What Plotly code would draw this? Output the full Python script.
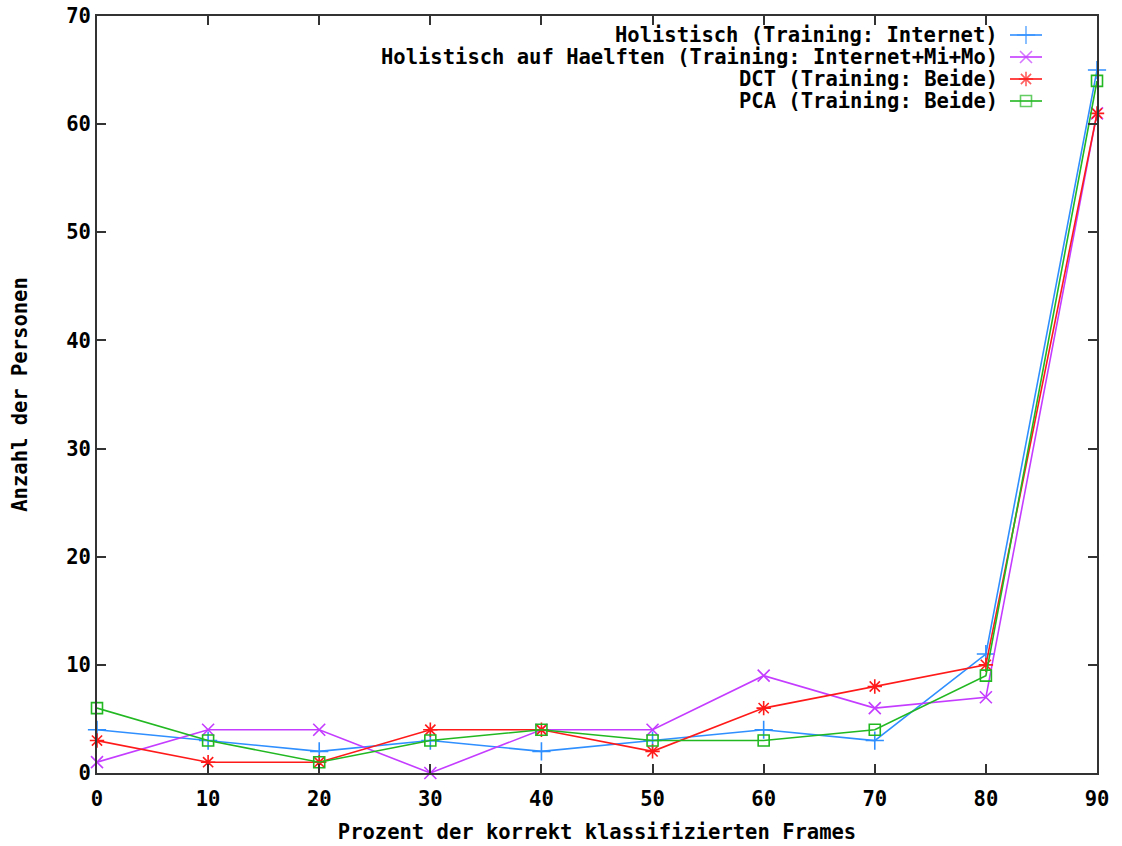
import plotly.graph_objects as go

x_vals = [0, 10, 20, 30, 40, 50, 60, 70, 80, 90]
holistisch = [4, 3, 2, 3, 2, 3, 4, 3, 11, 65]
holistisch_haelften = [1, 4, 4, 0, 4, 4, 9, 6, 7, 61]
dct = [3, 1, 1, 4, 4, 2, 6, 8, 10, 61]
pca = [6, 3, 1, 3, 4, 3, 3, 4, 9, 64]

names = [
    "Holistisch (Training: Internet)",
    "Holistisch auf Haelften (Training: Internet+Mi+Mo)",
    "DCT (Training: Beide)",
    "PCA (Training: Beide)",
]
series = [holistisch, holistisch_haelften, dct, pca]
colors = ["#2f8fff", "#c43cff", "#ff1a1a", "#22b822"]
symbols = ["cross-thin-open", "x-thin-open", "asterisk-open", "square-open"]
msizes = [13, 12, 12, 11]

FONT = "DejaVu Sans Mono"
FS = 20.5

fig = go.Figure()
for name, ys, c, s, ms in zip(names, series, colors, symbols, msizes):
    fig.add_trace(go.Scatter(
        x=x_vals, y=ys, mode="lines+markers", name=name,
        line=dict(color=c, width=1.6),
        marker=dict(symbol=s, size=ms, color=c, line=dict(color=c, width=1.6)),
        cliponaxis=False,
    ))

# Legend (gnuplot style: text right, sample on the right) on pixel-like overlay axes
row_y = [19, 41, 63, 85]
for name, c, s, ms, ry in zip(names, colors, symbols, msizes, row_y):
    fig.add_trace(go.Scatter(
        x=[913, 929, 945], y=[ry, ry, ry], xaxis="x2", yaxis="y2",
        mode="lines+markers",
        line=dict(color=c, width=1.6),
        marker=dict(symbol=s, size=[0, ms, 0], color=c, line=dict(color=c, width=1.6)),
        hoverinfo="skip", cliponaxis=False,
    ))
    fig.add_annotation(
        x=903, y=ry, xref="x2", yref="y2", text=name, showarrow=False,
        xanchor="right", yanchor="middle",
        font=dict(family=FONT, size=FS, color="black", weight="bold"),
    )

fig.update_layout(
    width=1122, height=846,
    margin=dict(l=97, r=25, t=16, b=73, autoexpand=False),
    paper_bgcolor="white", plot_bgcolor="white",
    showlegend=False,
    font=dict(family=FONT, size=FS, color="black", weight="bold"),
    xaxis=dict(
        range=[0, 90], tickmode="array", tickvals=x_vals,
        ticktext=[str(v) for v in x_vals],
        ticks="inside", ticklen=9, tickwidth=1.5, tickcolor="#333",
        showline=True, linecolor="#333", linewidth=2, mirror="ticks",
        showgrid=False, zeroline=False, automargin=False,
        ticklabelstandoff=6,
        tickfont=dict(family=FONT, size=FS, weight="bold"),
        title=dict(text="Prozent der korrekt klassifizierten Frames",
                   font=dict(family=FONT, size=FS, weight="bold"), standoff=15),
    ),
    yaxis=dict(
        range=[0, 70], tickmode="array", tickvals=list(range(0, 71, 10)),
        ticks="inside", ticklen=9, tickwidth=1.5, tickcolor="#333",
        showline=True, linecolor="#333", linewidth=2, mirror="ticks",
        showgrid=False, zeroline=False, automargin=False,
        tickfont=dict(family=FONT, size=FS, weight="bold"),
        title=dict(text="Anzahl der Personen",
                   font=dict(family=FONT, size=FS, weight="bold"), standoff=33),
    ),
    xaxis2=dict(range=[0, 1000], overlaying="x", visible=False, fixedrange=True),
    yaxis2=dict(range=[757, 0], overlaying="y", visible=False, fixedrange=True),
)

fig.write_html("out.html", config={"displayModeBar": False},
               post_script="document.body.style.margin='0';")
